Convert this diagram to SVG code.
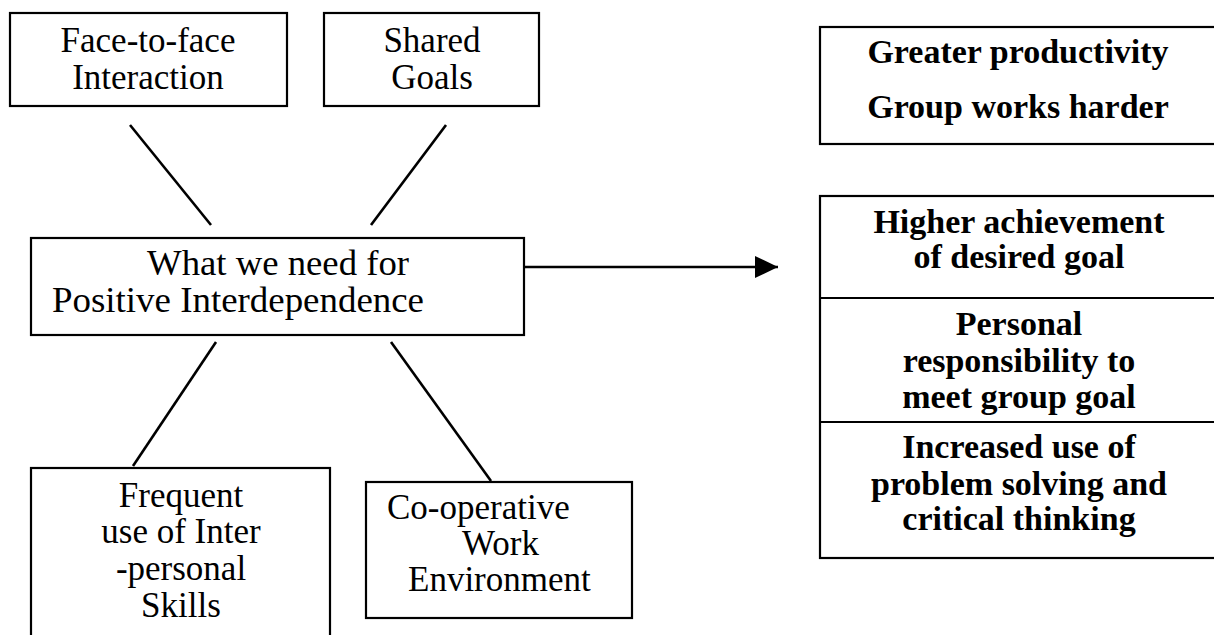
<svg xmlns="http://www.w3.org/2000/svg" width="1214" height="635" viewBox="0 0 1214 635">
<style>
.box{fill:#fff;stroke:#000;stroke-width:2.2}
.t{font-family:"Liberation Serif","Times New Roman",serif;font-size:35px;fill:#000}
.b{font-family:"Liberation Serif","Times New Roman",serif;font-size:34px;font-weight:bold;fill:#000;text-anchor:middle}
.c{text-anchor:middle}
.ln{stroke:#000;stroke-width:2.6;fill:none}
</style>
<defs>
<marker id="ah" markerWidth="24" markerHeight="22" refX="23" refY="11" orient="auto" markerUnits="userSpaceOnUse">
<path d="M0,0 L23,11 L0,22 Z" fill="#000"/>
</marker>
</defs>
<rect width="1214" height="635" fill="#fff"/>
<g id="connectors">
<line class="ln" x1="130" y1="125" x2="211" y2="225"/>
<line class="ln" x1="446" y1="125" x2="371" y2="225"/>
<line class="ln" x1="216" y1="342" x2="133" y2="466"/>
<line class="ln" x1="391" y1="342" x2="491" y2="481"/>
<line class="ln" x1="524" y1="267" x2="778" y2="267" marker-end="url(#ah)"/>
</g>
<g id="face">
<rect class="box" x="10" y="13" width="277" height="93"/>
<text class="t c" x="148" y="52">Face-to-face</text>
<text class="t c" x="148" y="89">Interaction</text>
</g>
<g id="shared">
<rect class="box" x="324" y="13" width="215" height="93"/>
<text class="t c" x="432" y="52">Shared</text>
<text class="t c" x="432" y="89">Goals</text>
</g>
<g id="center">
<rect class="box" x="31" y="238" width="493" height="97"/>
<text class="t" x="147" y="275" textLength="262" lengthAdjust="spacingAndGlyphs">What we need for</text>
<text class="t" x="52" y="312" textLength="372" lengthAdjust="spacingAndGlyphs">Positive Interdependence</text>
</g>
<g id="frequent">
<rect class="box" x="31" y="468" width="299" height="180"/>
<text class="t c" x="181" y="507">Frequent</text>
<text class="t c" x="181" y="543">use of Inter</text>
<text class="t c" x="181" y="580">-personal</text>
<text class="t c" x="181" y="617">Skills</text>
</g>
<g id="cooperative">
<rect class="box" x="366" y="482" width="266" height="136"/>
<text class="t" x="387" y="519">Co-operative</text>
<text class="t" x="462" y="555">Work</text>
<text class="t" x="408" y="591">Environment</text>
</g>
<g id="productivity">
<rect class="box" x="820" y="27" width="400" height="117"/>
<text class="b" x="1018" y="63">Greater productivity</text>
<text class="b" x="1018" y="118">Group works harder</text>
</g>
<g id="outcomes">
<rect class="box" x="820" y="196" width="400" height="362"/>
<line class="box" x1="820" y1="298" x2="1220" y2="298"/>
<line class="box" x1="820" y1="422" x2="1220" y2="422"/>
<text class="b" x="1019" y="233">Higher achievement</text>
<text class="b" x="1019" y="268">of desired goal</text>
<text class="b" x="1019" y="335">Personal</text>
<text class="b" x="1019" y="372">responsibility to</text>
<text class="b" x="1019" y="408">meet group goal</text>
<text class="b" x="1019" y="458">Increased use of</text>
<text class="b" x="1019" y="495">problem solving and</text>
<text class="b" x="1019" y="530">critical thinking</text>
</g>
</svg>
